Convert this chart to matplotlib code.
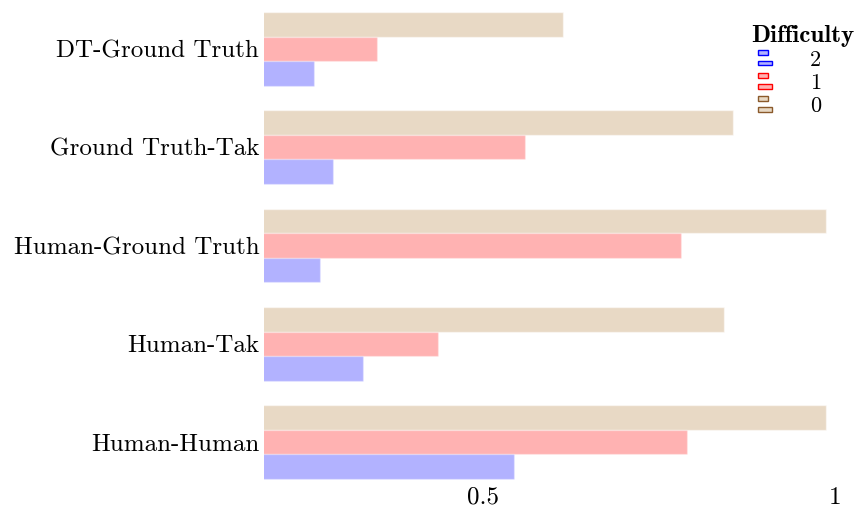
import numpy as np
import matplotlib.pyplot as plt
from matplotlib.patches import Rectangle
from matplotlib.legend_handler import HandlerBase

plt.rcParams['font.family'] = ['cmr10', 'DejaVu Serif']
plt.rcParams['axes.formatter.use_mathtext'] = True

pairs = ['DT-Ground Truth', 'Ground Truth-Tak', 'Human-Ground Truth', 'Human-Tak', 'Human-Human']
difficulty = ['0', '1', '2']
score_0 = [0.614, 0.855, 0.987, 0.842, 0.987]
score_1 = [0.351, 0.560, 0.781, 0.437, 0.790]
score_2 = [0.261, 0.288, 0.270, 0.331, 0.545]

colors = {'0': ('tan', 0.5, '#8b5a2b'), '1': ('red', 0.3, 'red'), '2': ('blue', 0.3, 'blue')}


class TwoBoxHandler(HandlerBase):
    # two small stacked boxes, drawn in the right part of the handle area
    def create_artists(self, legend, orig_handle, xdescent, ydescent, width, height, fontsize, trans):
        fc = orig_handle.get_facecolor()
        ec = orig_handle.get_edgecolor()
        w = 10.0
        x0 = -xdescent + width - w
        bh = height * 0.3
        r1 = Rectangle((x0, -ydescent + height - bh), w * 0.75, bh,
                       facecolor=fc, edgecolor=ec, lw=1.0, transform=trans)
        r2 = Rectangle((x0, -ydescent), w, bh,
                       facecolor=fc, edgecolor=ec, lw=1.0, transform=trans)
        return [r1, r2]


def main():
    fig = plt.figure(figsize=(8.57, 5.08), dpi=100)
    ax = fig.add_axes([264 / 857, 27 / 508, (838 - 264) / 857, (498 - 27) / 508])

    y = np.arange(len(pairs))
    h = 0.25
    series = {'0': score_0, '1': score_1, '2': score_2}
    offsets = {'0': -h, '1': 0.0, '2': h}
    handles = {}
    for d in difficulty:
        c, a, ec = colors[d]
        ax.barh(y + offsets[d], series[d], height=h, color=c, alpha=a,
                edgecolor='white', linewidth=1, zorder=2)
        handles[d] = Rectangle((0, 0), 1, 1, facecolor=plt.matplotlib.colors.to_rgba(c, a),
                               edgecolor=ec)

    ax.set_yticks(y)
    ax.set_yticklabels(pairs, fontsize=18)
    ax.set_ylim(len(pairs) - 1 + 0.395, -0.395)
    ax.set_xlim(0.19, 1.0043)
    ax.set_xticks([0.5, 1])
    ax.set_xticklabels(['0.5', '1'], fontsize=18)
    ax.tick_params(axis='both', length=0, pad=4)
    ax.tick_params(axis='y', pad=3.5)
    for s in ax.spines.values():
        s.set_visible(False)

    order = ['2', '1', '0']
    leg = fig.legend([handles[d] for d in order], order, title='Difficulty',
                     handler_map={Rectangle: TwoBoxHandler()},
                     loc='upper right', bbox_to_anchor=(1.0, 0.956), frameon=False,
                     fontsize=16, handlelength=0.9, handleheight=0.68, handletextpad=1.71,
                     labelspacing=0.16, borderaxespad=0.0, borderpad=0.1,
                     alignment='left')
    leg.get_title().set_fontfamily('cmb10')
    leg.get_title().set_fontsize(18)

    fig.savefig('out.png', dpi=100)


if __name__ == '__main__':
    main()
